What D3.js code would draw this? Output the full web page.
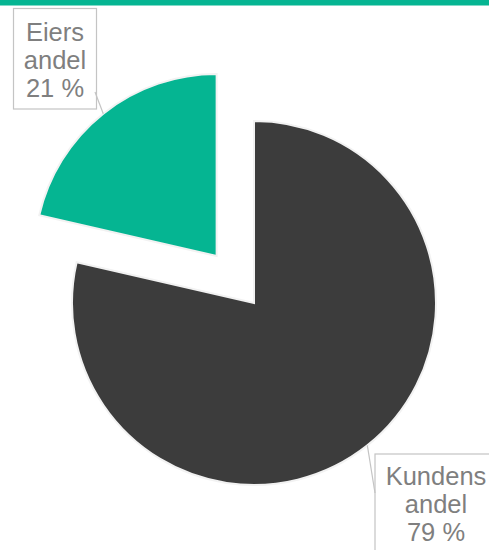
<!DOCTYPE html>
<html>
<head>
<meta charset="utf-8">
<script src="https://d3js.org/d3.v7.min.js"></script>
<style>
  body { margin: 0; background: #fff; }
  .lbl text { fill: #7f7f7f; font-family: 'Liberation Sans', Arial, sans-serif; font-size: 25.5px; }
</style>
</head>
<body>
<div id="chart"></div>
<script>
var categories = ['Kundens andel', 'Eiers andel'];
var values = [78.6, 21.4];
var labelLines = [['Kundens', 'andel'], ['Eiers', 'andel']];
var colors = ['#3c3c3c', '#05b592'];

var width = 489, height = 550;
var cx = 254, cy = 303, r = 182;
var explode = [0, 60];

var svg = d3.select('#chart').append('svg')
  .attr('width', width).attr('height', height);

// top band
svg.append('rect')
  .attr('x', 0).attr('y', 0)
  .attr('width', width).attr('height', 5.5)
  .style('fill', '#05b592');

var pie = d3.pie().sort(null).value(function(d) { return d; });
var arcs = pie(values);
var arc = d3.arc().innerRadius(0).outerRadius(r);
var total = d3.sum(values);

var g = svg.append('g').attr('transform', 'translate(' + cx + ',' + cy + ')');

function offset(d, i) {
  var a = (d.startAngle + d.endAngle) / 2;
  return [Math.sin(a) * explode[i], -Math.cos(a) * explode[i]];
}

g.selectAll('path.slice')
  .data(arcs)
  .enter().append('path')
  .attr('class', 'slice')
  .attr('d', arc)
  .attr('transform', function(d, i) { var o = offset(d, i); return 'translate(' + o[0] + ',' + o[1] + ')'; })
  .style('fill', function(d, i) { return colors[i]; })
  .style('stroke', '#f2f2f2')
  .style('stroke-width', 2);

// callout boxes
var boxes = [
  { x: 375, y: 454, w: 130, h: 110, cx: 436, base: 485, leader: [375, 493] },
  { x: 13.5, y: 8.5, w: 83, h: 100.5, cx: 55, base: 41, leader: [95, 92] }
];

arcs.forEach(function(d, i) {
  var a = (d.startAngle + d.endAngle) / 2;
  var o = offset(d, i);
  var px = cx + o[0] + Math.sin(a) * r;
  var py = cy + o[1] - Math.cos(a) * r;
  var b = boxes[i];
  var lines = labelLines[i].concat([Math.round(d.value / total * 100) + ' %']);
  var lg = svg.append('g').attr('class', 'lbl');
  lg.append('rect')
    .attr('x', b.x).attr('y', b.y)
    .attr('width', b.w).attr('height', b.h)
    .style('fill', '#fff')
    .style('stroke', '#c4c4c4')
    .style('stroke-width', 1.2);
  lg.append('line')
    .attr('x1', px).attr('y1', py)
    .attr('x2', b.leader[0]).attr('y2', b.leader[1])
    .style('stroke', '#c4c4c4')
    .style('stroke-width', 1.2);
  lg.selectAll('text')
    .data(lines)
    .enter().append('text')
    .attr('x', b.cx)
    .attr('y', function(t, j) { return b.base + j * 28; })
    .attr('text-anchor', 'middle')
    .text(function(t) { return t; });
});
</script>
</body>
</html>
